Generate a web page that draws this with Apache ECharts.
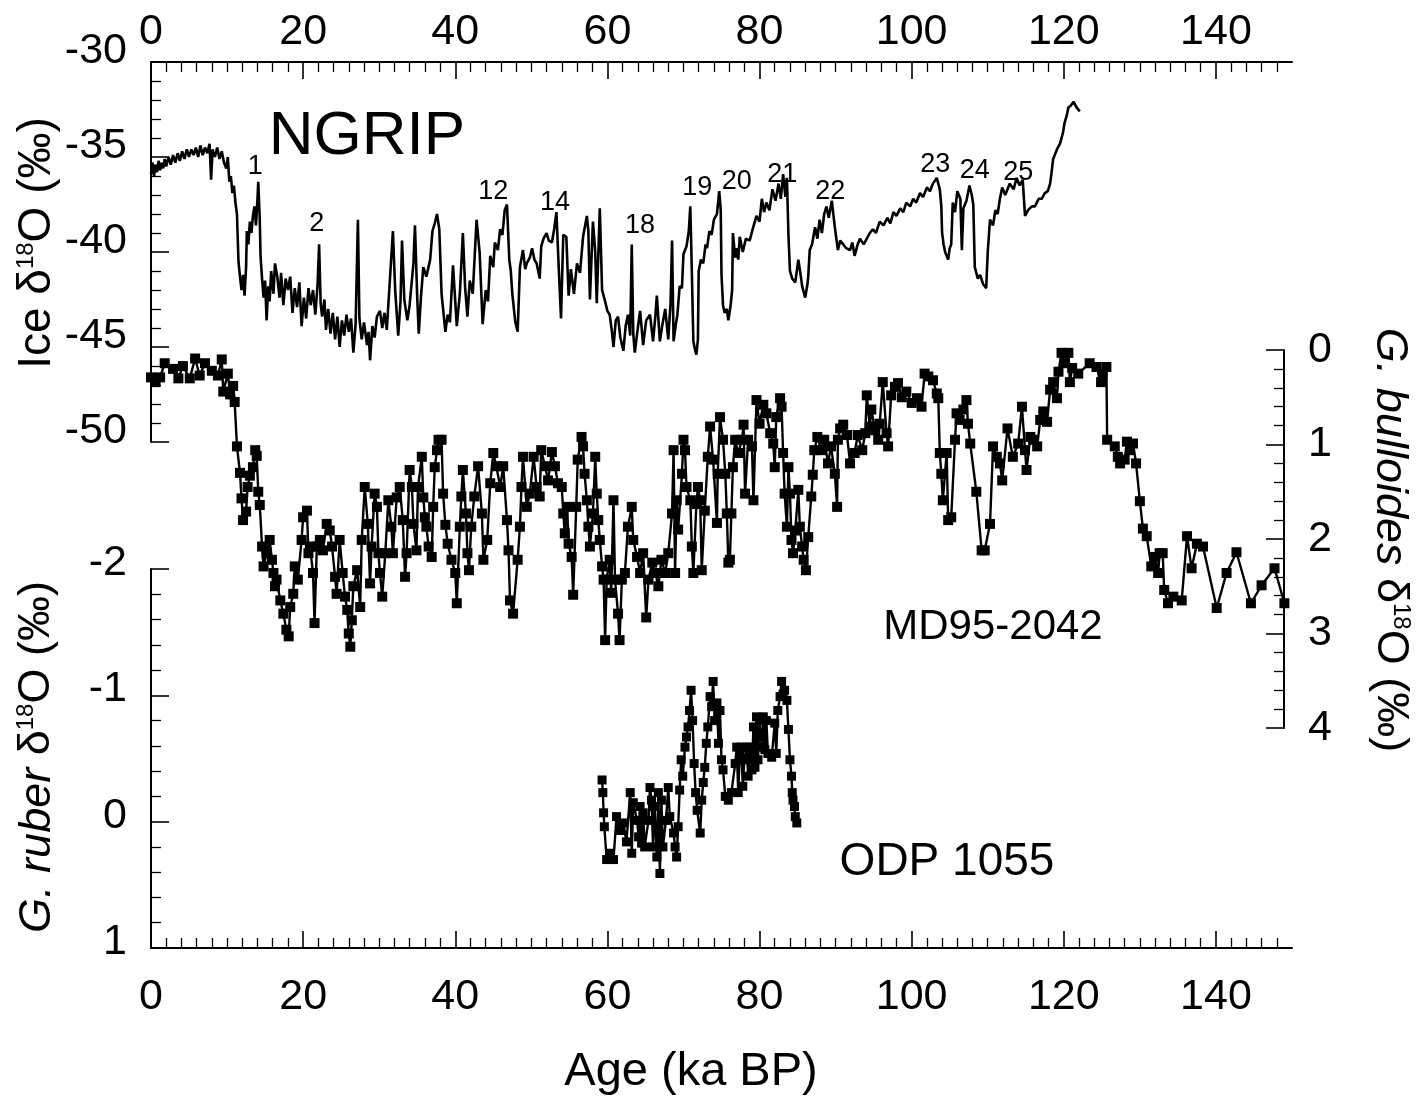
<!DOCTYPE html>
<html>
<head>
<meta charset="utf-8">
<script src="https://cdn.jsdelivr.net/npm/echarts@6/dist/echarts.min.js"></script>
<style>
html,body{margin:0;padding:0;background:#fff;}
#chart{width:1425px;height:1100px;}
</style>
</head>
<body>
<div id="chart"></div>
<script>
// ---------------- DATA ----------------
const ageTicks = [0, 20, 40, 60, 80, 100, 120, 140];

// NGRIP ice core d18O (age ka BP, permil)
const ngrip = [
[0.0,-35.9],[0.2,-35.3],[0.4,-36.0],[0.6,-35.4],[0.8,-35.8],[1.0,-35.2],[1.2,-35.7],[1.4,-35.3],[1.6,-35.6],[1.8,-35.1],
[2.0,-35.5],[2.3,-35.0],[2.6,-35.4],[2.9,-34.9],[3.2,-35.3],[3.5,-34.8],[3.8,-35.2],[4.1,-34.7],[4.4,-35.1],[4.7,-34.6],
[5.0,-35.0],[5.3,-34.6],[5.6,-34.9],[5.9,-34.5],[6.2,-35.0],[6.5,-34.4],[6.8,-34.9],[7.1,-34.5],[7.4,-34.8],[7.7,-34.3],
[7.9,-36.2],[8.1,-34.6],[8.4,-35.0],[8.7,-34.5],[9.0,-35.1],[9.3,-34.7],[9.6,-35.3],[9.9,-35.6],[10.1,-35.0],[10.3,-36.3],
[10.5,-36.0],[10.7,-36.9],[10.9,-36.5],[11.1,-37.4],[11.3,-38.0],[11.5,-40.5],[11.7,-41.3],[11.9,-42.0],[12.1,-41.2],[12.3,-42.3],
[12.5,-40.8],[12.6,-38.9],[12.8,-39.6],[13.0,-38.4],[13.2,-39.0],[13.4,-38.1],[13.6,-37.6],[13.8,-38.6],[14.0,-37.2],[14.1,-36.3],
[14.3,-38.3],[14.4,-40.2],[14.6,-41.4],[14.8,-42.4],[15.0,-41.5],[15.2,-43.6],[15.4,-41.8],[15.6,-42.6],[15.8,-41.0],[16.1,-42.2],
[16.3,-40.6],[16.6,-41.3],[16.9,-42.4],[17.1,-41.1],[17.4,-42.8],[17.7,-41.4],[18.0,-42.0],[18.3,-41.3],[18.6,-43.2],[18.9,-41.9],
[19.2,-42.9],[19.5,-41.6],[19.8,-43.9],[20.1,-42.4],[20.4,-43.5],[20.7,-41.9],[21.0,-42.8],[21.3,-42.0],[21.6,-43.3],[21.9,-41.7],
[22.1,-39.6],[22.3,-42.7],[22.5,-43.4],[22.8,-42.5],[23.0,-44.1],[23.3,-43.0],[23.6,-44.3],[23.9,-43.2],[24.2,-44.6],[24.5,-43.4],
[24.8,-45.0],[25.1,-43.6],[25.4,-44.4],[25.7,-43.3],[26.0,-44.2],[26.3,-43.5],[26.6,-45.3],[26.9,-43.8],[27.2,-38.3],[27.4,-43.5],
[27.7,-44.6],[28.0,-43.7],[28.4,-44.9],[28.6,-44.2],[28.8,-45.7],[29.1,-43.9],[29.4,-44.5],[29.7,-43.4],[30.1,-43.1],[30.4,-44.0],
[30.7,-43.2],[31.0,-44.1],[31.4,-41.5],[31.8,-38.9],[32.1,-42.0],[32.5,-44.4],[32.8,-42.6],[33.0,-39.4],[33.3,-42.5],[33.7,-43.6],
[34.0,-42.8],[34.5,-40.6],[34.7,-38.6],[35.0,-42.4],[35.2,-44.3],[35.5,-42.3],[35.8,-40.8],[36.2,-41.3],[36.7,-40.4],[37.0,-38.9],
[37.3,-38.5],[37.6,-38.0],[37.9,-38.8],[38.2,-42.2],[38.5,-43.4],[38.7,-44.2],[39.0,-43.3],[39.3,-43.7],[39.7,-40.7],[40.0,-42.6],
[40.2,-43.9],[40.6,-42.2],[41.0,-39.0],[41.3,-41.9],[41.6,-43.4],[41.9,-41.5],[42.3,-42.2],[42.8,-38.3],[43.2,-40.0],[43.6,-43.8],
[44.0,-42.0],[44.3,-42.6],[44.6,-40.2],[45.0,-40.8],[45.2,-39.5],[45.6,-39.9],[45.9,-38.8],[46.2,-39.1],[46.5,-37.8],[46.8,-37.5],
[47.1,-40.4],[47.3,-41.0],[47.5,-42.2],[47.9,-43.7],[48.2,-44.2],[48.5,-40.8],[48.9,-39.9],[49.2,-40.9],[49.4,-40.6],[49.8,-40.3],
[50.1,-39.8],[50.4,-40.4],[50.7,-40.6],[51.1,-41.4],[51.3,-39.7],[51.6,-39.3],[52.0,-39.0],[52.3,-39.4],[52.7,-39.5],[53.0,-38.8],
[53.3,-37.9],[53.6,-40.8],[53.9,-43.5],[54.2,-39.1],[54.6,-39.2],[54.9,-42.3],[55.2,-40.9],[55.6,-42.2],[56.0,-40.6],[56.4,-41.1],
[56.8,-39.2],[57.3,-38.1],[57.5,-38.9],[57.7,-42.5],[58.1,-38.4],[58.4,-40.0],[58.6,-42.7],[59.0,-37.7],[59.3,-42.0],[59.7,-42.6],
[60.0,-43.1],[60.3,-43.3],[60.6,-44.2],[60.8,-45.0],[61.1,-43.6],[61.4,-43.4],[61.7,-44.5],[62.1,-45.2],[62.4,-43.9],[62.7,-43.3],
[63.0,-44.4],[63.2,-39.6],[63.4,-44.3],[63.6,-45.3],[64.0,-44.0],[64.3,-43.1],[64.7,-44.9],[65.1,-43.6],[65.6,-43.3],[66.0,-44.7],
[66.3,-43.4],[66.5,-42.3],[66.9,-44.7],[67.2,-43.9],[67.6,-43.0],[68.0,-44.6],[68.3,-42.7],[68.5,-39.4],[68.7,-44.7],[69.0,-43.8],
[69.2,-43.3],[69.5,-41.8],[69.8,-41.9],[70.0,-40.1],[70.4,-39.7],[70.7,-38.9],[70.9,-37.6],[71.1,-41.0],[71.3,-44.7],[71.5,-45.1],
[71.7,-45.4],[71.9,-44.6],[72.0,-41.0],[72.3,-40.4],[72.6,-40.6],[72.9,-39.6],[73.1,-39.8],[73.4,-38.9],[73.7,-39.1],[74.0,-38.3],
[74.4,-38.0],[74.7,-36.8],[74.9,-37.8],[75.0,-41.2],[75.2,-42.8],[75.4,-43.2],[75.7,-43.0],[75.9,-43.6],[76.2,-42.8],[76.4,-42.0],
[76.5,-39.0],[76.8,-40.3],[77.0,-39.8],[77.2,-40.4],[77.4,-39.2],[77.8,-40.0],[78.2,-39.3],[78.7,-39.4],[79.1,-38.8],[79.6,-38.1],
[80.0,-38.4],[80.3,-37.2],[80.6,-37.9],[80.9,-37.4],[81.3,-37.8],[81.7,-36.7],[82.1,-37.3],[82.5,-36.4],[82.8,-37.2],[83.1,-35.9],
[83.4,-37.1],[83.6,-36.1],[83.8,-39.1],[84.0,-41.0],[84.3,-41.4],[84.7,-41.6],[85.1,-40.4],[85.4,-41.2],[85.6,-41.8],[86.0,-42.4],
[86.3,-41.7],[86.4,-41.3],[86.6,-39.9],[86.9,-39.6],[87.3,-38.7],[87.6,-39.3],[87.9,-38.3],[88.2,-39.0],[88.5,-38.0],[88.8,-37.6],
[89.1,-38.2],[89.5,-37.3],[89.9,-38.7],[90.3,-39.9],[90.6,-39.4],[91.0,-39.6],[91.4,-39.8],[91.9,-39.9],[92.2,-39.5],[92.5,-40.2],
[92.9,-39.6],[93.2,-39.3],[93.7,-39.6],[94.1,-39.3],[94.5,-39.0],[94.9,-38.8],[95.3,-39.0],[95.8,-38.4],[96.3,-38.6],[96.8,-38.2],
[97.2,-38.5],[97.6,-37.9],[98.0,-38.1],[98.5,-37.7],[98.9,-37.9],[99.3,-37.4],[99.8,-37.6],[100.2,-37.2],[100.6,-37.4],[101.1,-36.9],
[101.5,-37.1],[102.0,-36.6],[102.4,-36.8],[102.8,-36.4],[103.3,-36.1],[103.7,-36.7],[103.9,-37.6],[104.0,-39.0],[104.2,-39.6],[104.4,-40.0],
[104.8,-40.4],[105.0,-39.8],[105.2,-39.6],[105.4,-37.4],[105.7,-37.9],[106.0,-36.8],[106.4,-37.2],[106.6,-39.9],[106.8,-37.7],[107.2,-37.3],
[107.6,-36.5],[107.9,-37.0],[108.1,-37.5],[108.3,-40.8],[108.7,-41.4],[109.0,-41.2],[109.4,-41.7],[109.8,-41.9],[110.0,-40.0],[110.3,-38.3],
[110.7,-38.6],[111.0,-37.8],[111.3,-38.0],[111.6,-37.2],[111.9,-36.6],[112.3,-37.0],[112.9,-36.4],[113.4,-36.7],[113.8,-36.1],[114.2,-36.5],
[114.6,-36.2],[114.9,-38.1],[115.3,-37.8],[115.8,-37.6],[116.2,-37.6],[116.7,-37.2],[117.1,-37.2],[117.5,-36.9],[117.9,-36.8],[118.2,-36.4],
[118.4,-35.8],[118.6,-35.1],[118.9,-34.8],[119.1,-34.6],[119.5,-34.3],[119.7,-34.0],[119.9,-33.7],[120.1,-33.2],[120.4,-32.8],[120.6,-32.4],
[120.9,-32.3],[121.3,-32.1],[121.7,-32.4],[122.1,-32.6]
];

// MD95-2042 G. bulloides d18O
const md952042 = [
[0.0,0.29],[0.6,0.34],[1.2,0.29],[1.8,0.14],[2.9,0.2],[3.6,0.3],[4.2,0.17],[5.1,0.3],[5.8,0.09],[6.4,0.27],
[7.1,0.14],[8.0,0.22],[8.8,0.27],[9.3,0.1],[9.5,0.44],[10.1,0.25],[10.4,0.47],[10.8,0.38],[11.0,0.55],[11.3,1.02],
[11.7,1.3],[11.9,1.57],[12.1,1.8],[12.5,1.71],[12.7,1.45],[13.0,1.33],[13.4,1.24],[13.7,1.06],[13.9,1.12],[14.1,1.5],
[14.3,1.64],[14.6,2.08],[14.8,2.29],[15.2,2.15],[15.6,2.01],[15.9,2.22],[16.1,2.36],[16.3,2.5],[16.5,2.43],[17.0,2.65],
[17.4,2.79],[17.8,2.96],[18.1,3.03],[18.3,2.72],[18.7,2.58],[18.9,2.29],[19.3,2.43],[19.8,2.01],[20.0,1.77],[20.5,1.7],
[20.7,2.15],[20.9,2.08],[21.3,2.36],[21.5,2.89],[21.8,2.08],[22.2,2.01],[22.6,2.12],[23.1,1.84],[23.5,1.91],[23.8,2.08],
[24.2,2.4],[24.4,2.58],[24.8,2.01],[25.2,2.36],[25.5,2.61],[25.8,2.75],[26.0,3.0],[26.2,3.14],[26.4,2.86],[26.6,2.5],
[27.1,2.33],[27.5,2.72],[27.7,2.01],[28.1,1.45],[28.5,1.84],[28.8,2.47],[29.0,2.08],[29.4,1.52],[29.7,1.66],[29.9,2.15],
[30.1,2.36],[30.4,2.61],[30.8,2.15],[31.2,1.59],[31.6,1.87],[31.8,2.15],[32.3,1.56],[32.7,1.45],[33.1,1.8],[33.4,2.4],
[33.6,2.15],[34.0,1.27],[34.3,1.45],[34.5,1.84],[34.9,2.12],[35.1,1.45],[35.6,1.13],[35.8,1.56],[36.0,1.77],[36.2,1.87],
[36.5,2.08],[36.9,2.19],[37.1,1.66],[37.3,1.24],[37.6,1.06],[37.8,0.95],[38.2,0.95],[38.4,1.52],[38.7,1.85],[39.0,2.05],
[39.5,2.22],[40.0,2.36],[40.2,2.68],[40.6,1.87],[40.8,1.55],[41.0,1.27],[41.4,1.73],[41.6,2.15],[41.8,2.33],[42.1,1.87],
[42.5,1.55],[43.0,1.23],[43.5,1.73],[43.7,2.22],[44.2,2.01],[44.6,1.41],[45.0,1.09],[45.4,1.23],[45.9,1.45],[46.3,1.23],
[46.8,1.8],[47.0,2.12],[47.2,2.65],[47.6,2.79],[48.2,2.22],[48.5,1.87],[48.7,1.45],[48.9,1.13],[49.4,1.66],[49.8,1.52],
[50.3,1.13],[50.7,1.45],[51.1,1.55],[51.3,1.06],[51.8,1.23],[52.2,1.38],[52.7,1.08],[53.1,1.23],[53.5,1.41],[54.0,1.45],
[54.2,1.73],[54.4,1.94],[54.7,1.66],[54.9,2.05],[55.3,2.19],[55.5,2.59],[55.9,1.66],[56.1,1.16],[56.6,0.92],[56.8,1.02],
[57.0,1.31],[57.3,1.59],[57.5,1.87],[57.7,2.08],[58.1,1.73],[58.4,1.13],[58.6,1.52],[58.8,1.8],[59.0,2.01],[59.3,2.29],
[59.5,2.43],[59.7,3.07],[59.9,2.43],[60.3,2.22],[60.5,2.57],[60.8,1.59],[61.0,2.43],[61.4,2.79],[61.6,3.07],[61.9,2.43],
[62.3,2.36],[62.7,1.87],[63.2,1.66],[63.4,2.01],[63.9,2.19],[64.3,2.36],[64.7,2.15],[65.1,2.83],[65.4,2.43],[65.9,2.25],
[66.3,2.36],[66.7,2.5],[67.1,2.22],[67.6,2.36],[68.0,2.15],[68.5,1.73],[68.7,1.06],[68.9,2.36],[69.1,1.59],[69.3,1.9],
[69.8,1.31],[70.0,0.95],[70.2,1.06],[70.4,1.45],[70.9,1.59],[71.1,2.08],[71.3,2.36],[71.7,1.63],[71.9,1.45],[72.2,1.59],
[72.4,2.33],[72.8,1.7],[73.2,1.13],[73.5,0.81],[73.9,1.16],[74.4,1.83],[74.5,1.31],[74.8,0.71],[75.2,0.95],[75.5,1.31],
[75.7,1.73],[75.9,2.25],[76.1,2.22],[76.3,1.73],[76.5,1.24],[76.8,0.95],[77.2,1.09],[77.7,0.95],[77.9,0.79],[78.1,1.52],
[78.5,0.95],[79.0,1.02],[79.2,1.59],[79.6,0.53],[80.0,0.78],[80.5,0.58],[80.9,0.67],[81.4,0.88],[81.8,0.99],[82.0,1.24],
[82.2,0.71],[82.7,0.51],[82.9,0.6],[83.1,1.09],[83.3,1.52],[83.6,1.87],[83.8,1.24],[84.0,1.52],[84.2,2.01],[84.4,2.15],
[84.7,1.91],[85.1,1.48],[85.3,1.87],[85.6,2.08],[85.8,2.22],[86.1,2.33],[86.4,1.98],[86.8,1.55],[87.0,1.32],[87.2,1.06],
[87.6,0.92],[88.1,1.06],[88.5,0.95],[89.0,1.2],[89.4,1.02],[89.9,1.31],[90.2,1.66],[90.3,0.95],[90.6,0.83],[91.0,0.79],
[91.5,0.9],[91.9,1.2],[92.5,1.09],[92.9,0.9],[93.5,1.06],[93.9,0.88],[94.1,0.48],[94.5,0.81],[94.7,0.63],[95.2,0.85],
[95.6,0.95],[95.8,0.78],[96.2,0.34],[96.7,0.88],[96.9,1.02],[97.3,0.48],[97.8,0.39],[98.2,0.35],[98.7,0.5],[99.3,0.44],
[100.0,0.56],[100.7,0.51],[101.3,0.6],[101.7,0.25],[102.2,0.28],[102.8,0.32],[103.3,0.46],[103.5,0.51],[103.7,1.09],[103.9,1.31],
[104.1,1.59],[104.6,1.09],[104.8,1.8],[105.2,1.77],[105.7,0.95],[105.9,0.67],[106.3,0.74],[106.8,0.63],[107.2,0.53],[107.4,0.78],
[107.7,0.99],[108.5,1.5],[109.2,2.12],[109.6,2.12],[110.3,1.84],[110.7,1.02],[111.2,1.13],[111.6,1.2],[111.9,1.38],[112.6,0.83],
[113.3,1.13],[114.0,0.99],[114.5,0.6],[114.9,1.06],[115.1,1.27],[115.6,0.92],[116.0,0.95],[116.5,1.02],[116.9,0.74],[117.3,0.65],
[117.8,0.76],[118.2,0.42],[118.6,0.34],[119.1,0.51],[119.3,0.23],[119.7,0.03],[120.1,0.14],[120.6,0.03],[120.8,0.34],[121.1,0.19],
[121.9,0.25],[123.4,0.14],[124.3,0.18],[124.9,0.34],[125.1,0.25],[125.6,0.18],[125.7,0.95],[126.7,1.02],[127.1,1.13],[127.4,1.2],
[128.0,1.16],[128.3,0.97],[128.7,1.06],[129.1,0.99],[129.5,1.2],[130.0,1.6],[130.4,1.89],[130.9,1.97],[131.5,2.29],[132.0,2.19],
[132.4,2.36],[132.6,2.15],[133.0,2.15],[133.2,2.54],[133.7,2.68],[134.4,2.61],[135.5,2.65],[136.2,1.97],[136.8,2.31],[137.5,2.05],
[138.3,2.08],[140.1,2.73],[141.4,2.36],[142.7,2.14],[144.6,2.68],[146.0,2.49],[147.7,2.31],[149.0,2.68]
];

// ODP 1055 G. ruber d18O
const odp1055 = [
[59.3,-0.33],[59.4,-0.23],[59.5,-0.07],[59.6,0.04],[59.9,0.30],[60.3,0.25],[60.8,0.30],[61.2,-0.04],[61.6,0.07],[62.1,0.01],
[62.5,0.16],[63.0,-0.23],[63.2,0.25],[63.4,-0.15],[63.9,-0.01],[64.1,0.12],[64.3,-0.12],[64.5,0.17],[64.7,-0.07],[64.9,0.2],
[65.4,-0.01],[65.6,-0.27],[65.8,-0.17],[66.0,0.2],[66.2,-0.12],[66.5,0.28],[66.7,-0.23],[66.9,0.41],[67.1,-0.17],[67.3,0.2],
[67.7,-0.01],[68.0,-0.27],[68.2,-0.04],[68.7,0.09],[68.9,0.2],[69.1,0.28],[69.3,0.04],[69.5,-0.25],[69.7,-0.49],[69.9,-0.36],
[70.2,-0.59],[70.4,-0.67],[70.6,-0.75],[70.8,-0.88],[71.0,-1.04],[71.2,-0.8],[71.4,-0.46],[71.6,-0.23],[71.8,-0.09],[72.2,0.09],
[72.4,-0.17],[72.6,-0.31],[72.8,-0.43],[73.0,-0.62],[73.2,-0.75],[73.5,-0.99],[73.7,-0.91],[73.9,-1.11],[74.1,-0.8],[74.4,-0.94],
[74.6,-0.62],[74.8,-0.88],[75.0,-0.49],[75.2,-0.41],[75.5,-0.2],[75.9,-0.17],[76.3,-0.23],[76.8,-0.46],[77.0,-0.59],[77.2,-0.23],
[77.4,-0.54],[77.6,-0.59],[77.8,-0.28],[78.0,-0.49],[78.3,-0.59],[78.5,-0.36],[78.7,-0.59],[79.0,-0.41],[79.2,-0.75],[79.4,-0.43],
[79.6,-0.83],[79.8,-0.49],[80.0,-0.8],[80.3,-0.59],[80.5,-0.83],[80.7,-0.57],[80.9,-0.8],[81.1,-0.54],[81.6,-0.51],[82.0,-0.78],
[82.2,-0.54],[82.4,-0.88],[82.7,-0.99],[82.9,-1.11],[83.1,-1.01],[83.3,-1.04],[83.6,-0.96],[83.8,-0.73],[84.0,-0.49],[84.2,-0.36],
[84.3,-0.23],[84.4,-0.17],[84.6,-0.12],[84.7,-0.04],[84.9,0.01]
];

// Interstadial labels on the NGRIP record
const isNames = ['1','2','12','14','18','19','20','21','22','23','24','25'];
const isAges  = [13.7, 21.8, 45.0, 53.1, 64.3, 71.8, 77.0, 83.0, 89.3, 103.1, 108.3, 114.0];
const isD18O  = [-35.5, -38.5, -36.8, -37.4, -38.6, -36.6, -36.3, -35.9, -36.8, -35.4, -35.7, -35.8];

// ---------------- CHART ----------------
const FONT = "'Liberation Sans', Arial, Helvetica, sans-serif";
const chart = echarts.init(document.getElementById('chart'), null, {renderer: 'canvas'});

const L = 151, R = 133;
function xAxisBase(grid, pos, show) {
  return {
    type: 'value', gridIndex: grid, position: pos, min: 0, max: 150, interval: 20,
    show: show,
    axisLine: {show: true, onZero: false, lineStyle: {color: '#000', width: 2}},
    axisTick: {show: true, inside: true, length: 17, customValues: ageTicks, lineStyle: {color: '#000', width: 1.6}},
    minorTick: {show: true, splitNumber: 10, length: 10, lineStyle: {color: '#000', width: 1.3}},
    splitLine: {show: false}, minorSplitLine: {show: false},
    axisLabel: {show: true, customValues: ageTicks, color: '#000', fontSize: 43, fontFamily: FONT,
      margin: pos === 'top' ? 8 : 28}
  };
}
function yAxisBase(grid, pos, min, max, inverse, interval, offset, lift) {
  const lbl = {color: '#000', fontSize: 43, fontFamily: FONT, margin: 24};
  if (lift) { lbl.verticalAlign = 'bottom'; lbl.lineHeight = lift * 2; }
  return {
    type: 'value', gridIndex: grid, position: pos, min: min, max: max, interval: interval,
    inverse: inverse, offset: offset || 0,
    axisLine: {show: true, onZero: false, lineStyle: {color: '#000', width: 2}},
    axisTick: {show: true, inside: true, length: 18, lineStyle: {color: '#000', width: 1.6}},
    minorTick: {show: true, splitNumber: 5, length: 10, lineStyle: {color: '#000', width: 1.3}},
    splitLine: {show: false}, minorSplitLine: {show: false},
    axisLabel: lbl
  };
}

const option = {
  animation: false,
  backgroundColor: '#fff',
  grid: [
    {left: L, right: R, top: 62, height: 380},
    {left: L, right: R, top: 350, height: 378},
    {left: L, right: R, top: 569, height: 379}
  ],
  xAxis: [
    xAxisBase(0, 'top', true),
    xAxisBase(1, 'bottom', false),
    xAxisBase(2, 'bottom', true)
  ],
  yAxis: [
    yAxisBase(0, 'left', -50, -30, false, 5, 0, 11),
    yAxisBase(1, 'right', 0, 4, true, 1, -8),
    yAxisBase(2, 'left', -2, 1, true, 1, 0, 6)
  ],
  series: [
    {
      name: 'NGRIP', type: 'line', xAxisIndex: 0, yAxisIndex: 0,
      data: ngrip, showSymbol: false, symbol: 'none',
      lineStyle: {color: '#000', width: 2.6}, z: 3,
      markPoint: {
        symbol: 'rect', symbolSize: 1,
        itemStyle: {color: 'rgba(0,0,0,0)'},
        label: {show: true, position: 'inside', formatter: '{b}', color: '#000', fontSize: 27, fontFamily: FONT},
        data: isNames.map((n, i) => ({name: n, coord: [isAges[i], isD18O[i]]}))
      }
    },
    {
      name: 'MD95-2042', type: 'line', xAxisIndex: 1, yAxisIndex: 1,
      data: md952042, symbol: 'rect', symbolSize: 10, showSymbol: true,
      itemStyle: {color: '#000'}, lineStyle: {color: '#000', width: 2.4}, z: 2
    },
    {
      name: 'ODP 1055', type: 'line', xAxisIndex: 2, yAxisIndex: 2,
      data: odp1055, symbol: 'rect', symbolSize: 9, showSymbol: true,
      itemStyle: {color: '#000'}, lineStyle: {color: '#000', width: 2.4}, z: 2
    }
  ],
  graphic: [
    {type: 'text', x: 367, y: 137, style: {text: 'NGRIP', font: '62px ' + FONT, fill: '#000', align: 'center', verticalAlign: 'middle'}},
    {type: 'text', x: 993, y: 627, style: {text: 'MD95-2042', font: '42px ' + FONT, fill: '#000', align: 'center', verticalAlign: 'middle'}},
    {type: 'text', x: 947, y: 862, style: {text: 'ODP 1055', font: '46px ' + FONT, fill: '#000', align: 'center', verticalAlign: 'middle'}},
    {type: 'text', x: 691, y: 1072, style: {text: 'Age (ka BP)', font: '47px ' + FONT, fill: '#000', align: 'center', verticalAlign: 'middle'}},
    {type: 'text', x: 37, y: 243, rotation: Math.PI / 2,
      style: {text: 'Ice δ{sup|18}O (‰)', font: '46px ' + FONT, fill: '#000', align: 'center', verticalAlign: 'middle',
        rich: {sup: {fontSize: 24, fontFamily: FONT, verticalAlign: 'top', fill: '#000'}}}},
    {type: 'text', x: 37, y: 757, rotation: Math.PI / 2,
      style: {text: '{it|G. ruber} δ{sup|18}O (‰)', font: '45px ' + FONT, fill: '#000', align: 'center', verticalAlign: 'middle',
        rich: {it: {fontStyle: 'italic', fontSize: 45, fontFamily: FONT, fill: '#000'},
               sup: {fontSize: 24, fontFamily: FONT, verticalAlign: 'top', fill: '#000'}}}},
    {type: 'text', x: 1390, y: 540, rotation: -Math.PI / 2,
      style: {text: '{it|G. bulloides} δ{sup|18}O (‰)', font: '45px ' + FONT, fill: '#000', align: 'center', verticalAlign: 'middle',
        rich: {it: {fontStyle: 'italic', fontSize: 45, fontFamily: FONT, fill: '#000'},
               sup: {fontSize: 24, fontFamily: FONT, verticalAlign: 'top', fill: '#000'}}}}
  ]
};
chart.setOption(option);
</script>
</body>
</html>
